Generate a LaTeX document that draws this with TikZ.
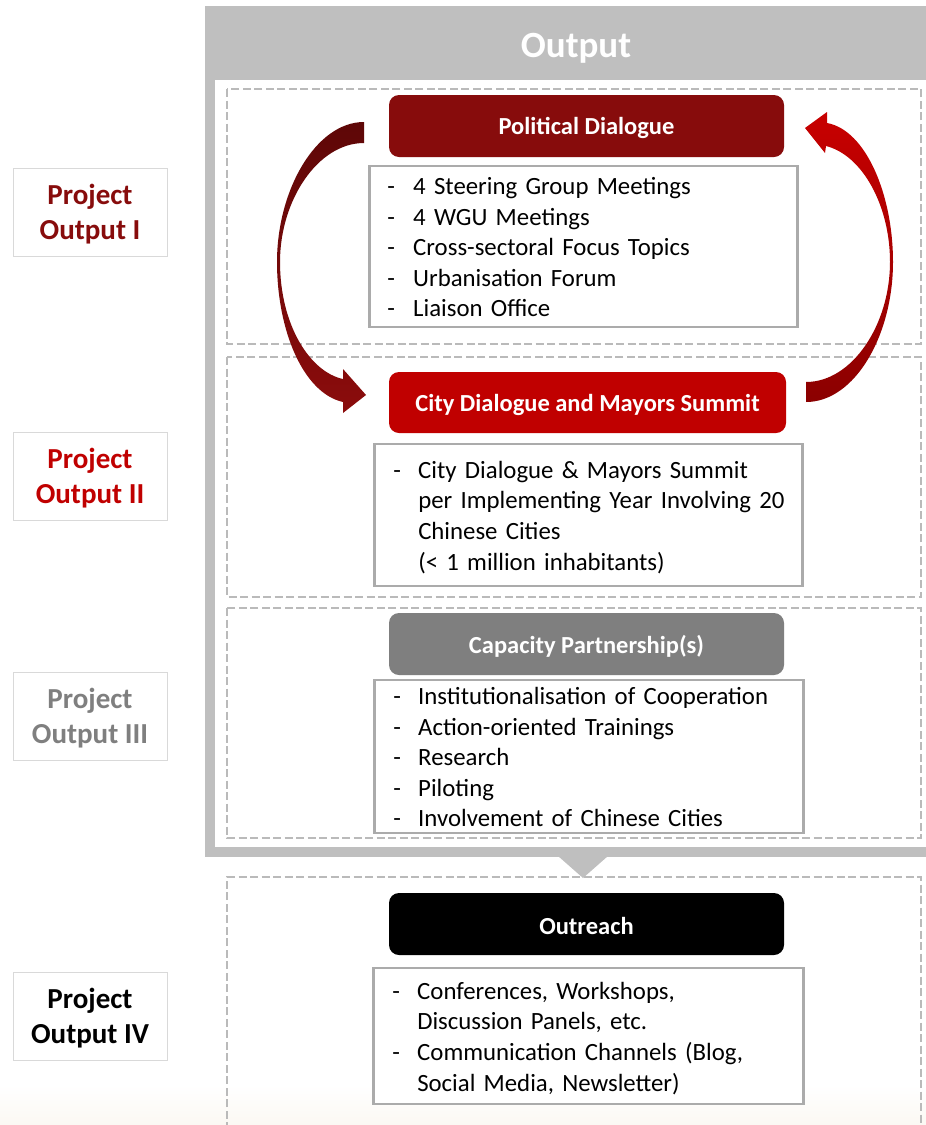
\documentclass[tikz,border=0pt]{standalone}
\usepackage{fontspec}
\setmainfont{Carlito}
\definecolor{maingray}{HTML}{BFBFBF}
\definecolor{dashgray}{HTML}{BABABA}
\definecolor{listgray}{HTML}{ABABAB}
\definecolor{lblborder}{HTML}{D9D9D9}
\definecolor{darkred}{HTML}{870C0C}
\definecolor{brightred}{HTML}{C00000}
\definecolor{midgray}{HTML}{7F7F7F}
\definecolor{cream}{RGB}{251,248,243}
\definecolor{arrowdarkA}{HTML}{5E0707}
\definecolor{arrowdarkB}{HTML}{8B0C0C}
\definecolor{arrowredA}{HTML}{C80000}
\definecolor{arrowredB}{HTML}{8B0000}
\newcommand\lowr[2]{\raisebox{-#1}[\height][\depth]{#2}}
\begin{document}
\begin{tikzpicture}[x=1pt,y=-1pt,
  titlebox/.style={rounded corners=10pt, text=white, inner sep=0pt,
    font=\bfseries\fontsize{24.5}{29}\selectfont, minimum width=395pt, minimum height=62pt},
  listbox/.style={draw=listgray, line width=2.5pt, fill=white, anchor=west,
    inner xsep=18pt, inner ysep=0pt, align=left,
    font=\fontsize{24.8}{30.6}\selectfont},
  lblbox/.style={draw=lblborder, line width=0.8pt, fill=white, minimum width=154pt,
    minimum height=88pt, inner sep=0pt, align=center,
    font=\bfseries\fontsize{29}{35}\selectfont},
  section/.style={draw=dashgray, line width=2.1pt, dash pattern=on 8pt off 3.5pt}
]
\useasboundingbox (0,0) rectangle (926,1125);
\shade[top color=white, bottom color=cream] (0,1085) rectangle (926,1125);

% main output panel
\fill[maingray] (205,6) rectangle (926,857);
\fill[maingray] (558,856) -- (608,856) -- (583,878) -- cycle;
\fill[white] (215,80) rectangle (926,847);
\node[text=white, font=\bfseries\fontsize{37}{44}\selectfont] (hdr) at (576,48) {Output};

% dashed sections
\draw[section] (227,89) rectangle (921,344);
\draw[section] (227,357) rectangle (921,597);
\draw[section] (227,608) rectangle (921,838);
\draw[section] (227,1130) -- (227,877) -- (921,877) -- (921,1130);

% list boxes
\node[listbox, text width=392pt, minimum height=161pt] (l1) at (368,246.5)
{\lowr{3pt}{\begin{tabular}{@{}p{26pt}@{}l@{}}
- & 4 Steering Group Meetings\\
- & 4 WGU Meetings\\
- & Cross-sectoral Focus Topics\\
- & Urbanisation Forum\\
- & Liaison Office
\end{tabular}}};
\node[listbox, inner xsep=19pt, text width=390pt, minimum height=142pt] (l2) at (373,515)
{\lowr{3pt}{\begin{tabular}{@{}p{25pt}@{}l@{}}
- & City Dialogue \& Mayors Summit\\
  & per Implementing Year Involving 20\\
  & Chinese Cities\\
  & (< 1 million inhabitants)
\end{tabular}}};
\node[listbox, inner xsep=19pt, text width=391pt, minimum height=151pt] (l3) at (373,756.5)
{\lowr{3pt}{\begin{tabular}{@{}p{25pt}@{}l@{}}
- & Institutionalisation of Cooperation\\
- & Action-oriented Trainings\\
- & Research\\
- & Piloting\\
- & Involvement of Chinese Cities
\end{tabular}}};
\node[listbox, inner xsep=19pt, text width=392pt, minimum height=136pt] (l4) at (372,1036)
{\lowr{3pt}{\begin{tabular}{@{}p{25pt}@{}l@{}}
- & Conferences, Workshops,\\
  & Discussion Panels, etc.\\
- & Communication Channels (Blog,\\
  & Social Media, Newsletter)
\end{tabular}}};

% title boxes
\node[titlebox, fill=darkred] (pd) at (586.5,126) {\lowr{2pt}{Political Dialogue}};
\node[titlebox, fill=brightred, minimum width=397pt, minimum height=61pt] (cd) at (587.5,402.5) {\lowr{2pt}{City Dialogue and Mayors Summit}};
\node[titlebox, fill=midgray] (cp) at (586.5,644) {\lowr{2pt}{Capacity Partnership(s)}};
\node[titlebox, fill=black] (or) at (586.5,924) {\lowr{2pt}{Outreach}};

% left labels
\node[lblbox, text=darkred] (o1) at (90,212) {\lowr{3pt}{\begin{tabular}{@{}c@{}}Project\\Output I\end{tabular}}};
\node[lblbox, text=brightred] (o2) at (90,476) {\lowr{3pt}{\begin{tabular}{@{}c@{}}Project\\Output II\end{tabular}}};
\node[lblbox, text=midgray] (o3) at (90,716) {\lowr{3pt}{\begin{tabular}{@{}c@{}}Project\\Output III\end{tabular}}};
\node[lblbox, text=black] (o4) at (90,1016) {\lowr{3pt}{\begin{tabular}{@{}c@{}}Project\\Output IV\end{tabular}}};

% curved arrows
\shade[top color=arrowdarkA, bottom color=arrowdarkB]
 (364,122) .. controls (316,122) and (277,190) .. (277,262)
 .. controls (277,330) and (303,393) .. (343,402)
 -- (343,413) -- (366,395) -- (343,369) -- (343,379)
 .. controls (310,372) and (280,325) .. (280,262)
 .. controls (280,200) and (318,143) .. (364,143) -- cycle;
\shade[top color=arrowredA, bottom color=arrowredB]
 (806,402) .. controls (855,402) and (893,335) .. (893,262)
 .. controls (893,195) and (866,130) .. (827,123)
 -- (827,112) -- (805,128) -- (825,153) -- (826,146)
 .. controls (862,155) and (890,205) .. (890,262)
 .. controls (890,325) and (852,382) .. (806,382) -- cycle;
\end{tikzpicture}
\end{document}
